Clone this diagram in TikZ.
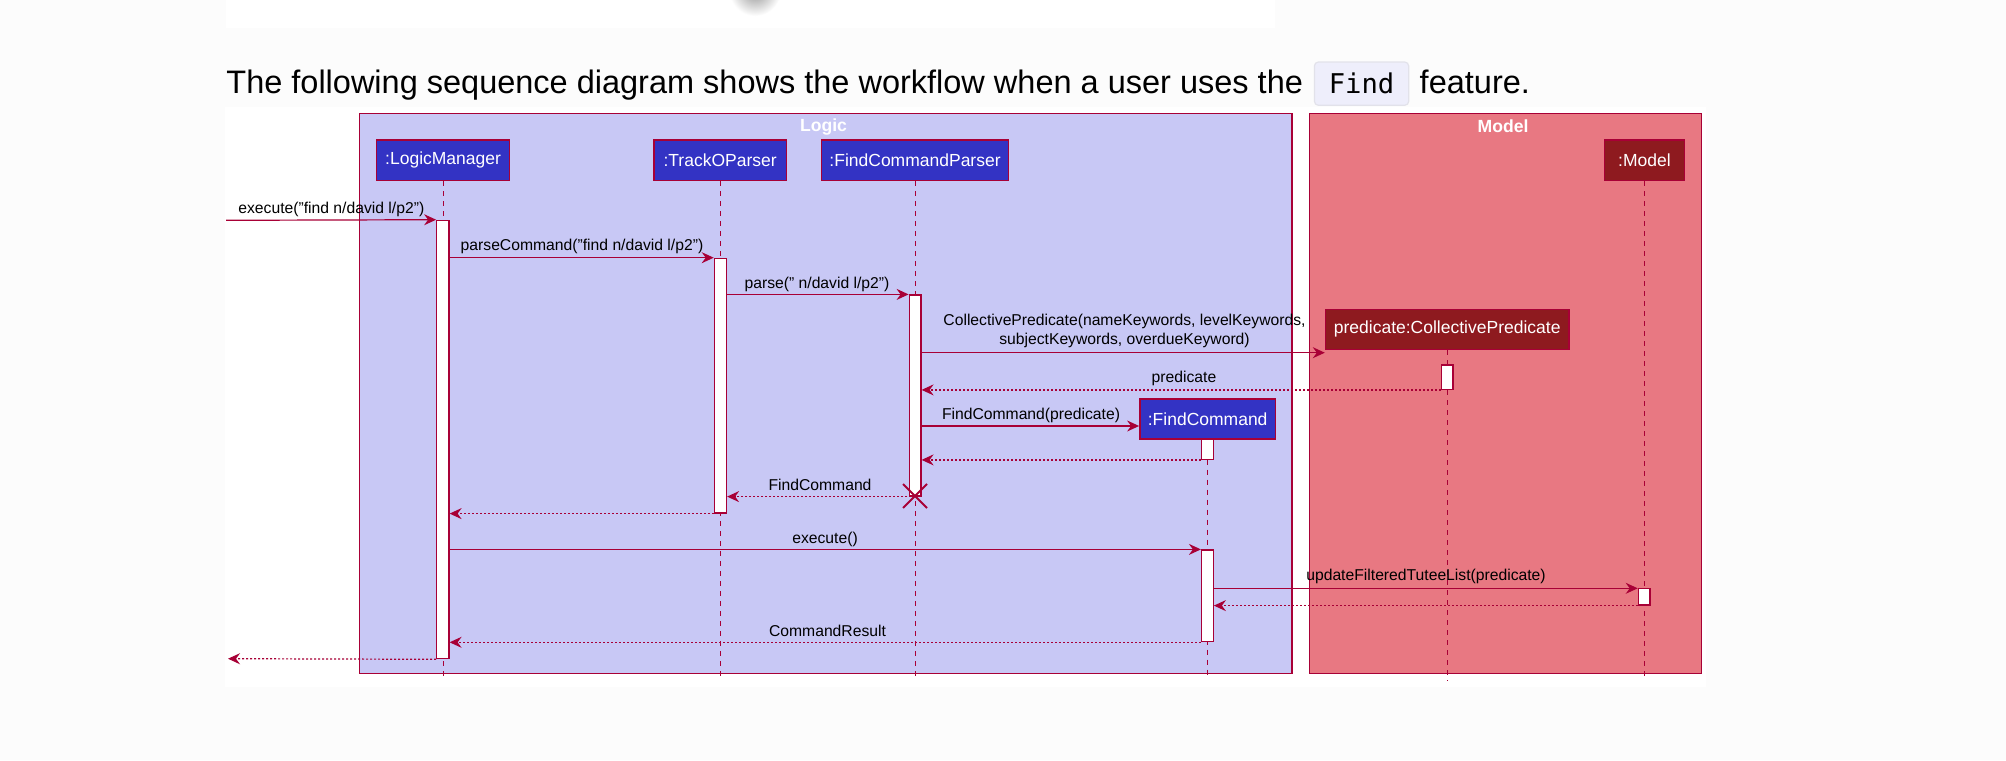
\documentclass[tikz,border=0pt]{standalone}
\usepackage{fontspec}
\setmainfont{Liberation Sans}
\newfontfamily\monofnt{DejaVu Sans Mono}
\usetikzlibrary{arrows.meta,fit}
\definecolor{crim}{HTML}{A80036}
\definecolor{logicbg}{HTML}{C8C8F5}
\definecolor{modelbg}{HTML}{E87882}
\definecolor{partblue}{HTML}{3333C4}
\definecolor{partred}{HTML}{8E1A1F}
\definecolor{pagebg}{HTML}{FCFCFC}
\definecolor{codebg}{HTML}{EEEEFB}
\definecolor{codeborder}{HTML}{E2E2EA}
\begin{document}
\begin{tikzpicture}[x=0.5pt,y=-0.5pt,
 frame/.style={draw=crim, line width=0.7pt, inner sep=0pt},
 part/.style={draw=crim, line width=0.7pt, inner sep=0pt},
 ptext/.style={inner sep=0pt, text=white, font=\fontsize{8.75pt}{10pt}\selectfont},
 act/.style={draw=crim, fill=white, line width=0.6pt, inner sep=0pt},
 life/.style={draw=crim, line width=0.5pt, dash pattern=on 2.5pt off 2.5pt},
 msg/.style={draw=crim, line width=0.6pt, -{Stealth[length=6pt,width=5.5pt,inset=2pt]}},
 ret/.style={msg, dash pattern=on 1pt off 1pt},
 lbl/.style={font=\fontsize{7.85pt}{9.85pt}\selectfont, inner sep=0pt},
 ttl/.style={font=\bfseries\fontsize{8.8pt}{10pt}\selectfont, text=white, inner sep=0pt}]
% page
\fill[pagebg] (0,0) rectangle (2006,760);
\useasboundingbox (0,0) rectangle (2006,760);
\fill[white] (226,0) rectangle (1275,28);
\fill[white] (225,107) rectangle (1706,687);
\shade[inner color=gray!85, outer color=white] (755,-10) circle[radius=13pt];
% header
\node[anchor=base west, inner sep=0pt, font=\fontsize{16.25pt}{19pt}\selectfont] (hdr) at (226,93) {The following sequence diagram shows the workflow when a user uses the};
\node[draw=codeborder, fill=codebg, rounded corners=2pt, line width=0.6pt, inner sep=0pt, fit={(1314.4,62)(1408.7,105.3)}] (findbox) {};
\node[anchor=base, inner sep=0pt, font=\monofnt\fontsize{13.6pt}{16pt}\selectfont] (findtxt) at (1361.5,93) {Find};
\node[anchor=base west, inner sep=0pt, font=\fontsize{16.25pt}{19pt}\selectfont] (feat) at (1419.3,93) {feature.};
% frames
\node[frame, fill=logicbg, fit={(359.7,113.3)(1291.8,673.7)}] (logic) {};
\node[frame, fill=modelbg, fit={(1309.2,113.3)(1701.3,673.7)}] (model) {};
\node[ttl] (logicttl) at (823.5,126.7) {Logic};
\node[ttl] (modelttl) at (1503,126.7) {Model};
% participants
\node[part, fill=partblue, fit={(376.5,140)(509.7,180.7)}] (LM) {};
\node[ptext] (LMt) at (LM.center) {:LogicManager};
\node[part, fill=partblue, fit={(654,140)(786.2,180.7)}] (TP) {};
\node[ptext] (TPt) at (TP.center) {:TrackOParser};
\node[part, fill=partblue, fit={(821.4,140)(1008.7,180.7)}] (FCP) {};
\node[ptext] (FCPt) at (FCP.center) {:FindCommandParser};
\node[part, fill=partred, fit={(1604.6,140)(1684.2,180.7)}] (MD) {};
\node[ptext] (MDt) at (MD.center) {:Model};
\coordinate (yend) at (0,677);
\coordinate (yend2) at (0,681);
% lifelines
\draw[life] (LM.south) -- (LM.south |- yend);
\draw[life] (TP.south) -- (TP.south |- yend);
\draw[life] (FCP.south) -- (FCP.south |- yend);
\draw[life] (MD.south) -- (MD.south |- yend);
\node[part, fill=partred, fit={(1325.5,309.3)(1568.9,349.3)}] (PR) {};
\node[ptext] (PRt) at (PR.center) {predicate:CollectivePredicate};
\draw[life] (PR.south) -- (PR.south |- yend2);
\node[part, fill=partblue, fit={(1139.8,399)(1275.5,439)}] (FC) {};
\node[ptext] (FCt) at (FC.center) {:FindCommand};
\draw[life] (FC.south) -- (FC.south |- yend);
% activations
\node[act, fit={(436.7,220.3)(449,658.7)}] (aLM) {};
\node[act, fit={(714.3,258.3)(726.5,513)}] (aTP) {};
\node[act, fit={(909.2,295)(921,496)}] (aFCP) {};
\node[act, fit={(1441.3,365)(1453,389.3)}] (aPR) {};
\node[act, fit={(1201.5,439)(1213.3,459.3)}] (aFC1) {};
\node[act, fit={(1201.5,550)(1213.3,641.7)}] (aFC2) {};
\node[act, fit={(1638.3,588.3)(1650,605)}] (aMD) {};
% destroy mark
\coordinate (xd) at (915,496);
\draw[crim, line width=1pt] ([shift={(-12,-12)}]xd) -- ([shift={(12,12)}]xd);
\draw[crim, line width=1pt] ([shift={(-12,12)}]xd) -- ([shift={(12,-12)}]xd);
% message levels
\coordinate (in) at (226,220.3);
\coordinate (out) at (228,658.7);
\coordinate (y4) at (0,352.7);
\coordinate (y6) at (0,426);
\coordinate (y11) at (0,588.3);
% messages
\draw[msg] (in) -- (aLM.north west);
\draw[msg] (aLM.east |- aTP.north) -- (aTP.north west);
\draw[msg] (aTP.east |- aFCP.north) -- (aFCP.north west);
\draw[msg] (aFCP.east |- y4) -- (PR.west |- y4);
\draw[ret] (aPR.south west) -- (aFCP.east |- aPR.south);
\draw[msg] (aFCP.east |- y6) -- (FC.west |- y6);
\draw[ret] (aFC1.south west) -- (aFCP.east |- aFC1.south);
\draw[ret] (aFCP.south) -- (aTP.east |- aFCP.south);
\draw[ret] (aTP.south west) -- (aLM.east |- aTP.south);
\draw[msg] (aLM.east |- aFC2.north) -- (aFC2.north west);
\draw[msg] (aFC2.east |- y11) -- (aMD.west |- y11);
\draw[ret] (aMD.south west) -- (aFC2.east |- aMD.south);
\draw[ret] (aFC2.south west) -- (aLM.east |- aFC2.south);
\draw[ret] (aLM.south west) -- (out);
% labels
\node[lbl, anchor=west] (l1) at (238,209.3) {execute("find n/david l/p2")};
\node[lbl] (l2) at (582,246.7) {parseCommand("find n/david l/p2")};
\node[lbl] (l3) at (817,284.3) {parse(" n/david l/p2")};
\node[lbl, align=center] (l4) at (1124.5,331) {CollectivePredicate(nameKeywords, levelKeywords,\\subjectKeywords, overdueKeyword)};
\node[lbl] (l5) at (1184,378.7) {predicate};
\node[lbl] (l6) at (1031,415) {FindCommand(predicate)};
\node[lbl] (l8) at (820,485.3) {FindCommand};
\node[lbl] (l10) at (825,539.3) {execute()};
\node[lbl] (l11) at (1426,576) {updateFilteredTuteeList(predicate)};
\node[lbl] (l13) at (827.5,630.7) {CommandResult};
\end{tikzpicture}
\end{document}
